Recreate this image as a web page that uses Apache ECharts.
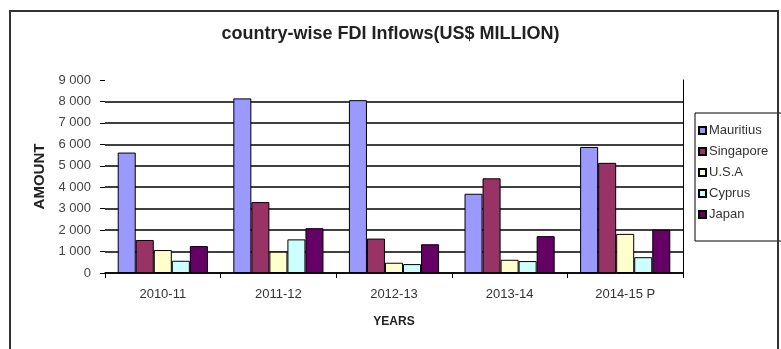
<!DOCTYPE html>
<html>
<head>
<meta charset="utf-8">
<script src="https://cdn.jsdelivr.net/npm/echarts@6/dist/echarts.min.js"></script>
<style>
  html, body { margin: 0; padding: 0; background: #fff; }
  #chart { width: 781px; height: 349px; }
</style>
</head>
<body>
<div id="chart"></div>
<script>
let years = ['2010-11', '2011-12', '2012-13', '2013-14', '2014-15 P'];
let countries = ['Mauritius', 'Singapore', 'U.S.A', 'Cyprus', 'Japan'];
let mauritius = [5616, 8142, 8059, 3695, 5878];
let singapore = [1540, 3306, 1605, 4415, 5137];
let usa = [1071, 994, 478, 617, 1824];
let cyprus = [571, 1568, 415, 557, 737];
let japan = [1256, 2089, 1340, 1718, 2019];
let colorList = ['#9999ff', '#993366', '#ffffcc', '#ccffff', '#660066'];

let seriesValues = [mauritius, singapore, usa, cyprus, japan];

let fontFamily = '"Liberation Sans", Arial, sans-serif';

let formatNumber = function(num) {
    return num.toString().replace(/\B(?=(\d{3})+$)/g, ' ');
};

let chart = echarts.init(document.getElementById('chart'));

let option = {
    backgroundColor: '#fff',
    color: colorList,
    animation: false,
    textStyle: { fontFamily: fontFamily },
    title: {
        text: 'country-wise FDI Inflows(US$ MILLION)',
        left: 'center',
        top: 20,
        textStyle: { fontSize: 18, fontWeight: 'bold', color: '#222', fontFamily: fontFamily }
    },
    grid: { left: 105, right: 98, top: 80, bottom: 76 },
    legend: {
        orient: 'vertical',
        left: 695,
        top: 113,
        padding: [11, 40, 20, 3],
        itemWidth: 7,
        itemHeight: 7,
        itemGap: 8,
        icon: 'rect',
        borderColor: '#000',
        borderWidth: 1,
        textStyle: { fontSize: 13, color: '#333', padding: [0, 0, 0, -2] },
        data: countries
    },
    xAxis: {
        type: 'category',
        data: years,
        name: 'YEARS',
        nameLocation: 'middle',
        nameGap: 43,
        nameTextStyle: { fontSize: 12, fontWeight: 'bold', color: '#222' },
        axisLine: { lineStyle: { color: '#000', width: 1.5 } },
        axisTick: { show: true, length: 5, lineStyle: { color: '#000' } },
        axisLabel: { fontSize: 13, color: '#333', margin: 15 }
    },
    yAxis: [{
        type: 'value',
        min: 0,
        max: 9000,
        interval: 1000,
        name: 'AMOUNT',
        nameLocation: 'middle',
        nameGap: 58,
        nameTextStyle: { fontSize: 15, fontWeight: 'bold', color: '#222' },
        axisLine: { show: false },
        axisTick: { show: true, length: 5, lineStyle: { color: '#000' } },
        axisLabel: { fontSize: 13, color: '#444', margin: 14, formatter: formatNumber },
        splitLine: { show: true, showMaxLine: false, lineStyle: { color: '#000', width: 1.5 } }
    }, {
        type: 'value',
        position: 'right',
        min: 0,
        max: 9000,
        interval: 1000,
        axisLine: { show: true, lineStyle: { color: '#000' } },
        axisTick: { show: false },
        axisLabel: { show: false },
        splitLine: { show: false }
    }],
    series: countries.map((name, i) => ({
        name: name,
        type: 'bar',
        data: seriesValues[i],
        barGap: '0%',
        barCategoryGap: '22%',
        itemStyle: { borderColor: '#000', borderWidth: 1 }
    })),
    graphic: [{
        type: 'rect',
        shape: { x: 10, y: 11, width: 768, height: 360 },
        style: { fill: null, stroke: '#333', lineWidth: 2 },
        silent: true,
        z: 100
    }]
};

chart.setOption(option);
</script>
</body>
</html>
